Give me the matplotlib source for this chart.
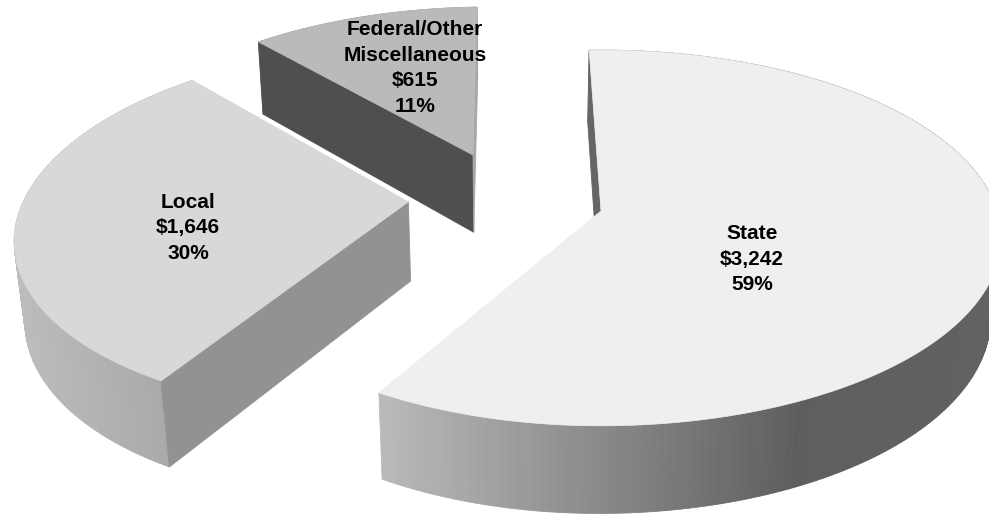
import numpy as np
import matplotlib
matplotlib.use('Agg')
import matplotlib.pyplot as plt
from matplotlib.patches import Polygon

plt.rcParams['font.family'] = ['Liberation Sans', 'DejaVu Sans']

# data
names = ['State', 'Local', 'Federal/Other\nMiscellaneous']
values = [3242, 1646, 615]
percents = [59, 30, 11]

# look of each slice, same order as the data
top_colors = ['#efefef', '#d8d8d8', '#bababa']
first_cut = ['#666666', '#929292', '#4f4f4f']
last_cut = [None, None, '#a6a6a6']
offsets = [(0, 0), (-0.5, 0.05), (-0.345, 0.318)]
wall_x = [[378, 800, 989], [13, 168], [250, 480]]
wall_gray = [[0.73, 0.37, 0.38], [0.74, 0.66], [0.6, 0.6]]
label_pos = [(752, 259), (188, 228), (415, 68)]

# tilted disc with perspective, numbers fitted to the picture in pixels
cx, cy = 601, 211
rx_left, rx_right = 388, 396
ry = 184
persp = 0.1435
vx, vy = 513, 4000
t0 = 0.021


def project(u, v):
    w = 1 + persp * v
    rx = np.where(u < 0, rx_left, rx_right)
    return cx + rx * u / w, cy - ry * v / w, w


def drop(x, y, w):
    # same point on the underside of the pie
    t = t0 / w
    return x + (vx - x) * t, y + (vy - y) * t


def quad(ax, p1, p2, p3, p4, color):
    ax.add_patch(Polygon([p1, p2, p3, p4], closed=True, fc=color, ec=color, lw=0.6))


fig = plt.figure(figsize=(9.89, 5.14), dpi=100)
ax = fig.add_axes([0, 0, 1, 1])
ax.set_xlim(0, 989)
ax.set_ylim(514, 0)
ax.axis('off')

total = sum(values)
edges = -2 + np.concatenate([[0], np.cumsum(values)]) / total * 360

# back slices first so the front ones sit over them
for i in [2, 1, 0]:
    ang = np.radians(np.linspace(edges[i], edges[i + 1], 200))
    ox, oy = offsets[i]
    x, y, w = project(ox + np.sin(ang), oy + np.cos(ang))
    bx, by = drop(x, y, w)
    x0, y0, w0 = project(ox, oy)
    x0, y0 = float(x0), float(y0)
    bx0, by0 = drop(x0, y0, w0)

    # outer wall, shaded by position
    for j in range(len(x) - 1):
        g = np.interp((x[j] + x[j + 1]) / 2, wall_x[i], wall_gray[i])
        quad(ax, (x[j], y[j]), (x[j + 1], y[j + 1]), (bx[j + 1], by[j + 1]), (bx[j], by[j]), str(g))

    # flat cut faces
    if first_cut[i]:
        quad(ax, (x0, y0), (x[0], y[0]), (bx[0], by[0]), (bx0, by0), first_cut[i])
    if last_cut[i]:
        quad(ax, (x0, y0), (x[-1], y[-1]), (bx[-1], by[-1]), (bx0, by0), last_cut[i])

    # top face
    pts = np.column_stack([np.r_[x0, x], np.r_[y0, y]])
    ax.add_patch(Polygon(pts, closed=True, fc=top_colors[i], ec=top_colors[i], lw=0.5))

for name, val, pct, pos in zip(names, values, percents, label_pos):
    ax.text(pos[0], pos[1], f'{name}\n\\${val:,}\n{pct}%', ha='center', va='center',
            fontsize=15, fontweight='bold', color='black', linespacing=1.46)

fig.savefig('out.png', dpi=100)
